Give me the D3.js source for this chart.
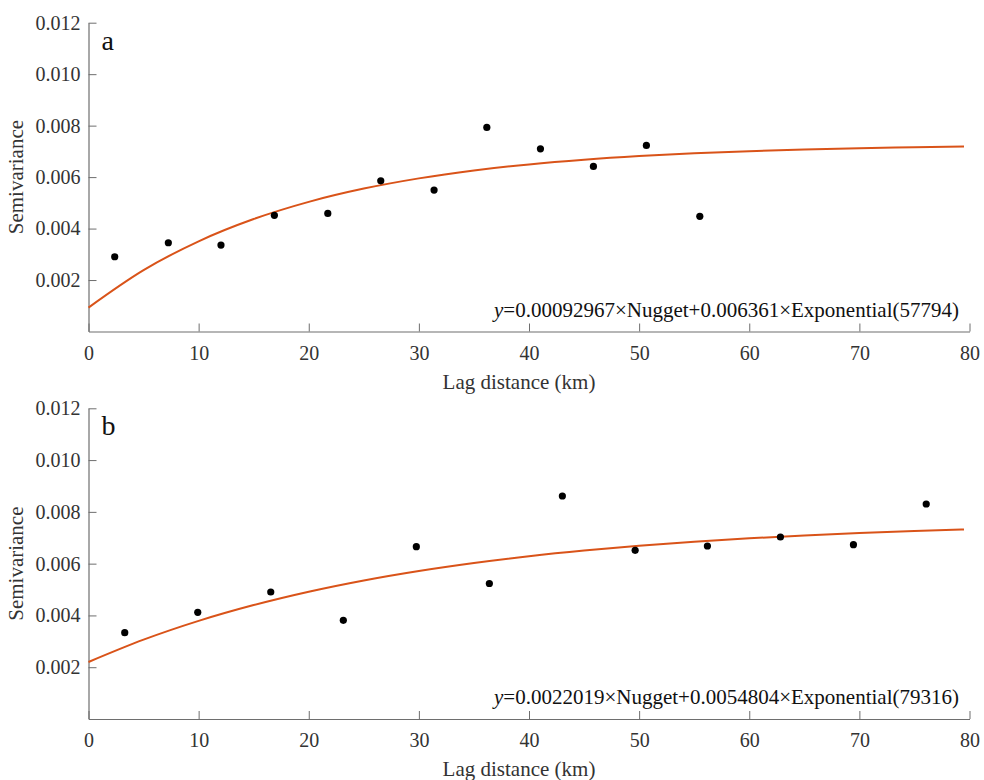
<!DOCTYPE html>
<html>
<head>
<meta charset="utf-8">
<script src="https://cdn.jsdelivr.net/npm/d3@7"></script>
<style>
  html, body { margin: 0; padding: 0; background: #fff; }
  svg { display: block; }
</style>
</head>
<body>
<svg id="chart" width="984" height="780"></svg>
<script>
// ---- Data ----
const xTicks = [0, 10, 20, 30, 40, 50, 60, 70, 80];
const yTicks = [0.002, 0.004, 0.006, 0.008, 0.010, 0.012];
const yTickLabels = ["0.002", "0.004", "0.006", "0.008", "0.010", "0.012"];

// Panel a: experimental semivariogram
const lagA = [2.38, 7.25, 12.03, 16.88, 21.73, 26.54, 31.38, 36.17, 41.04, 45.85, 50.66, 55.51];
const semA = [0.002905, 0.003449, 0.003359, 0.004513, 0.004590, 0.005856, 0.005495, 0.007930, 0.007099, 0.006416, 0.007231, 0.004474];
// Panel a: fitted model curve
const fitLagA = [0, 5, 10, 15, 20, 25, 30, 35, 40, 45, 50, 55, 60, 65, 70, 75, 79.5];
const fitSemA = [0.000930, 0.002384, 0.003505, 0.004370, 0.005038, 0.005553, 0.005950, 0.006257, 0.006493, 0.006675, 0.006816, 0.006924, 0.007008, 0.007073, 0.007123, 0.007161, 0.007188];

// Panel b
const lagB = [3.29, 9.92, 16.55, 23.14, 29.77, 36.40, 43.03, 49.64, 56.20, 62.83, 69.46, 76.07];
const semB = [0.003333, 0.004121, 0.004905, 0.003812, 0.006655, 0.005234, 0.008613, 0.006516, 0.006682, 0.007030, 0.006732, 0.008304];
const fitLagB = [0, 5, 10, 15, 20, 25, 30, 35, 40, 45, 50, 55, 60, 65, 70, 75, 79.5];
const fitSemB = [0.002202, 0.003064, 0.003790, 0.004401, 0.004917, 0.005352, 0.005718, 0.006027, 0.006287, 0.006506, 0.006691, 0.006847, 0.006978, 0.007089, 0.007182, 0.007261, 0.007321];

const panels = [
  { letter: "a", lag: lagA, sem: semA, fitLag: fitLagA, fitSem: fitSemA,
    eq: "=0.00092967×Nugget+0.006361×Exponential(57794)", top: 22.7, bottom: 331.5 },
  { letter: "b", lag: lagB, sem: semB, fitLag: fitLagB, fitSem: fitSemB,
    eq: "=0.0022019×Nugget+0.0054804×Exponential(79316)", top: 408.3, bottom: 719 }
];

const xLabel = "Lag distance (km)";
const yLabel = "Semivariance";

// ---- Drawing ----
const svg = d3.select("#chart");
const left = 88.5, right = 969.5;
const axisColor = "#6e6e6e";
const textColor = "#333333";
const lineColor = "#D95319";
const FONT = "Liberation Serif";

function serifText(sel, size) {
  return sel.attr("font-family", FONT)
    .attr("font-size", size)
    .style("font-family", FONT, "important")
    .style("font-size", size + "px", "important");
}

panels.forEach(p => {
  const x = d3.scaleLinear().domain([0, 80]).range([left, right]);
  const y = d3.scaleLinear().domain([0, 0.012]).range([p.bottom, p.top]);
  const g = svg.append("g");

  // x axis
  const xAxis = d3.axisBottom(x).tickValues(xTicks).tickSizeInner(-8).tickSizeOuter(0)
    .tickPadding(14).tickFormat(d3.format("d"));
  const gx = g.append("g").attr("transform", `translate(0,${p.bottom})`).call(xAxis);
  serifText(gx, 20);
  gx.select(".domain").attr("stroke", axisColor).attr("stroke-width", 1.2);
  gx.selectAll(".tick line").attr("stroke", axisColor).attr("stroke-width", 1);
  serifText(gx.selectAll(".tick text").attr("fill", textColor), 20);

  // y axis
  const yAxis = d3.axisLeft(y).tickValues(yTicks).tickSizeInner(-8).tickSizeOuter(0)
    .tickPadding(8).tickFormat((d, i) => yTickLabels[i]);
  const gy = g.append("g").attr("transform", `translate(${left},0)`).call(yAxis);
  serifText(gy, 20);
  gy.select(".domain").attr("stroke", axisColor).attr("stroke-width", 1.2);
  gy.selectAll(".tick line").attr("stroke", axisColor).attr("stroke-width", 1);
  serifText(gy.selectAll(".tick text").attr("fill", textColor), 20);

  // fitted curve
  const line = d3.line().x(d => x(d[0])).y(d => y(d[1])).curve(d3.curveMonotoneX);
  g.append("path")
    .datum(p.fitLag.map((h, i) => [h, p.fitSem[i]]))
    .attr("d", line)
    .attr("fill", "none")
    .attr("stroke", lineColor)
    .attr("stroke-width", 2);

  // points
  g.selectAll("circle.pt")
    .data(p.lag.map((h, i) => [h, p.sem[i]]))
    .enter().append("circle")
    .attr("class", "pt")
    .attr("cx", d => x(d[0]))
    .attr("cy", d => y(d[1]))
    .attr("r", 3.6)
    .attr("fill", "#000");

  // panel letter
  serifText(g.append("text")
    .attr("x", left + 13)
    .attr("y", p.top + 27)
    .attr("fill", "#111"), 28)
    .text(p.letter);

  // equation
  const eq = serifText(g.append("text")
    .attr("x", 959)
    .attr("y", p.bottom - 15)
    .attr("text-anchor", "end")
    .attr("fill", "#111"), 21);
  eq.append("tspan").attr("font-style", "italic").style("font-style", "italic").text("y");
  eq.append("tspan").text(p.eq);

  // x label
  serifText(g.append("text")
    .attr("x", (left + right) / 2 - 10)
    .attr("y", p.bottom + 57)
    .attr("text-anchor", "middle")
    .attr("fill", textColor), 21)
    .text(xLabel);

  // y label
  serifText(g.append("text")
    .attr("transform", `translate(23,${(p.top + p.bottom) / 2}) rotate(-90)`)
    .attr("text-anchor", "middle")
    .attr("fill", textColor), 21)
    .text(yLabel);
});
</script>
</body>
</html>
